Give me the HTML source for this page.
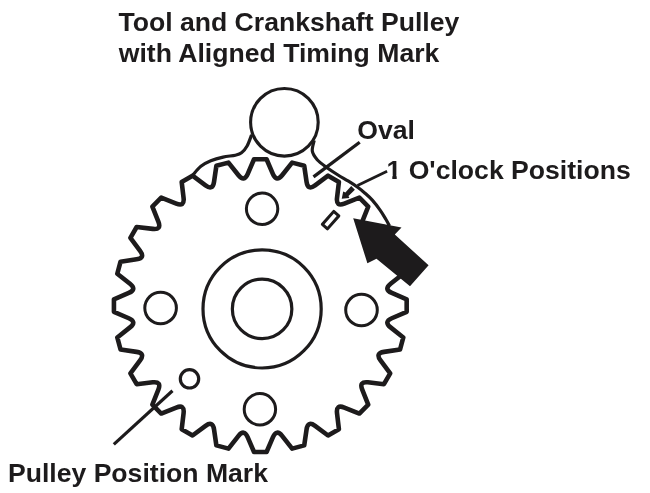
<!DOCTYPE html>
<html><head><meta charset="utf-8">
<style>
html,body{margin:0;padding:0;background:#fff;}
body{width:650px;height:493px;overflow:hidden;position:relative;font-family:"Liberation Sans",sans-serif;}
svg{position:absolute;left:0;top:0;will-change:transform;}
text{font-family:"Liberation Sans",sans-serif;font-weight:bold;fill:#1d1b1c;}
</style></head><body>
<svg width="650" height="493" viewBox="0 0 650 493">
<g fill="none" stroke="#1d1b1c" stroke-linejoin="round" stroke-linecap="butt">
<path d="M254.04 159.23 L266.56 159.23 L272.96 174.10 Q276.52 182.36 282.10 175.30 L292.13 162.60 L304.23 165.84 L306.57 181.86 Q307.87 190.76 315.08 185.38 L328.06 175.71 L338.91 181.97 L337.02 198.05 Q335.97 206.99 344.33 203.66 L359.37 197.68 L368.22 206.53 L362.24 221.57 Q358.91 229.93 367.85 228.88 L383.93 226.99 L390.19 237.84 L380.52 250.82 Q375.14 258.03 384.04 259.33 L400.06 261.67 L403.30 273.77 L390.60 283.80 Q383.54 289.38 391.80 292.94 L406.67 299.34 L406.67 311.86 L391.80 318.26 Q383.54 321.82 390.60 327.40 L403.30 337.43 L400.06 349.53 L384.04 351.87 Q375.14 353.17 380.52 360.38 L390.19 373.36 L383.93 384.21 L367.85 382.32 Q358.91 381.27 362.24 389.63 L368.22 404.67 L359.37 413.52 L344.33 407.54 Q335.97 404.21 337.02 413.15 L338.91 429.23 L328.06 435.49 L315.08 425.82 Q307.87 420.44 306.57 429.34 L304.23 445.36 L292.13 448.60 L282.10 435.90 Q276.52 428.84 272.96 437.10 L266.56 451.97 L254.04 451.97 L247.64 437.10 Q244.08 428.84 238.50 435.90 L228.47 448.60 L216.37 445.36 L214.03 429.34 Q212.73 420.44 205.52 425.82 L192.54 435.49 L181.69 429.23 L183.58 413.15 Q184.63 404.21 176.27 407.54 L161.23 413.52 L152.38 404.67 L158.36 389.63 Q161.69 381.27 152.75 382.32 L136.67 384.21 L130.41 373.36 L140.08 360.38 Q145.46 353.17 136.56 351.87 L120.54 349.53 L117.30 337.43 L130.00 327.40 Q137.06 321.82 128.80 318.26 L113.93 311.86 L113.93 299.34 L128.80 292.94 Q137.06 289.38 130.00 283.80 L117.30 273.77 L120.54 261.67 L136.56 259.33 Q145.46 258.03 140.08 250.82 L130.41 237.84 L136.67 226.99 L152.75 228.88 Q161.69 229.93 158.36 221.57 L152.38 206.53 L161.23 197.68 L176.27 203.66 Q184.63 206.99 183.58 198.05 L181.69 181.97 L192.54 175.71 L205.52 185.38 Q212.73 190.76 214.03 181.86 L216.37 165.84 L228.47 162.60 L238.50 175.30 Q244.08 182.36 247.64 174.10 L254.04 159.23 Z" stroke-width="4.6"/>
<circle cx="262.1" cy="308.9" r="59.1" stroke-width="3.2"/>
<circle cx="262.1" cy="308.9" r="29.75" stroke-width="3.2"/>
<circle cx="262.1" cy="208.8" r="15.7" stroke-width="3"/>
<circle cx="160.6" cy="308.0" r="15.8" stroke-width="3"/>
<circle cx="361.5" cy="310.0" r="15.8" stroke-width="3"/>
<circle cx="259.9" cy="409.3" r="15.7" stroke-width="3"/>
<circle cx="189.5" cy="378.8" r="9.2" stroke-width="3.2"/>
<circle cx="284.4" cy="122.3" r="33.8" stroke-width="3.1" fill="#fff"/>
<path d="M192.90 174.90 C194.23 173.47 197.92 168.65 200.90 166.30 C203.88 163.95 207.10 162.33 210.80 160.80 C214.50 159.27 219.00 158.03 223.10 157.10 C227.20 156.17 232.33 155.92 235.40 155.20 C238.47 154.48 239.55 154.33 241.50 152.80 C243.45 151.27 245.42 148.98 247.10 146.00 C248.78 143.02 250.85 136.75 251.60 134.90" stroke-width="3.2"/>
<path d="M314.20 140.50 C313.88 142.27 311.80 147.90 312.30 151.10 C312.80 154.30 314.73 156.93 317.20 159.70 C319.67 162.47 323.63 165.15 327.10 167.70 C330.57 170.25 334.43 172.75 338.00 175.00 C341.57 177.25 345.22 179.15 348.50 181.20 C351.78 183.25 354.95 185.30 357.70 187.30 C360.45 189.30 362.57 191.07 365.00 193.20 C367.43 195.33 369.78 197.28 372.30 200.10 C374.82 202.92 377.87 206.95 380.10 210.10 C382.33 213.25 384.13 216.35 385.70 219.00 C387.27 221.65 388.87 224.83 389.50 226.00" stroke-width="3.2"/>
<path d="M359.7 142.2 L313.5 176.9" stroke-width="3.3"/>
<path d="M387.1 171.2 L357.5 185.4" stroke-width="2.8"/>
<path d="M113.8 444.4 L172.5 390.8" stroke-width="3.2"/>
<rect x="-8.6" y="-3.4" width="17.2" height="6.8" transform="translate(330.6 220.1) rotate(-48.6)" stroke-width="3"/>
</g>
<path d="M351.2 186.1 L354.9 189.8 L348.5 195.9 L349.4 197.9 L341.7 198.7 L343.2 191.5 L345.4 192.5 Z" fill="#1d1b1c"/>
<path d="M353.2 218.3 L401.5 227.4 L394.8 234.5 L428.6 265.3 L410 286.2 L376.5 258.8 L367.4 263.3 Z" fill="#1d1b1c"/>
<text transform="translate(118.4 30.7) scale(1.023 1)" font-size="26">Tool and Crankshaft Pulley</text>
<text transform="translate(118.7 62.4) scale(1.023 1)" font-size="26">with Aligned Timing Mark</text>
<text transform="translate(357.3 139) scale(1.023 1)" font-size="26">Oval</text>
<text transform="translate(386.5 179.3) scale(1.023 1)" font-size="26">1 O'clock Positions</text>
<path d="M387 175.4 H392.3 V180 H387 Z M396.7 175.4 H402 V180 H396.7 Z" fill="#fff"/>
<text transform="translate(7.9 481.7) scale(1.023 1)" font-size="26">Pulley Position Mark</text>
</svg>
</body></html>
